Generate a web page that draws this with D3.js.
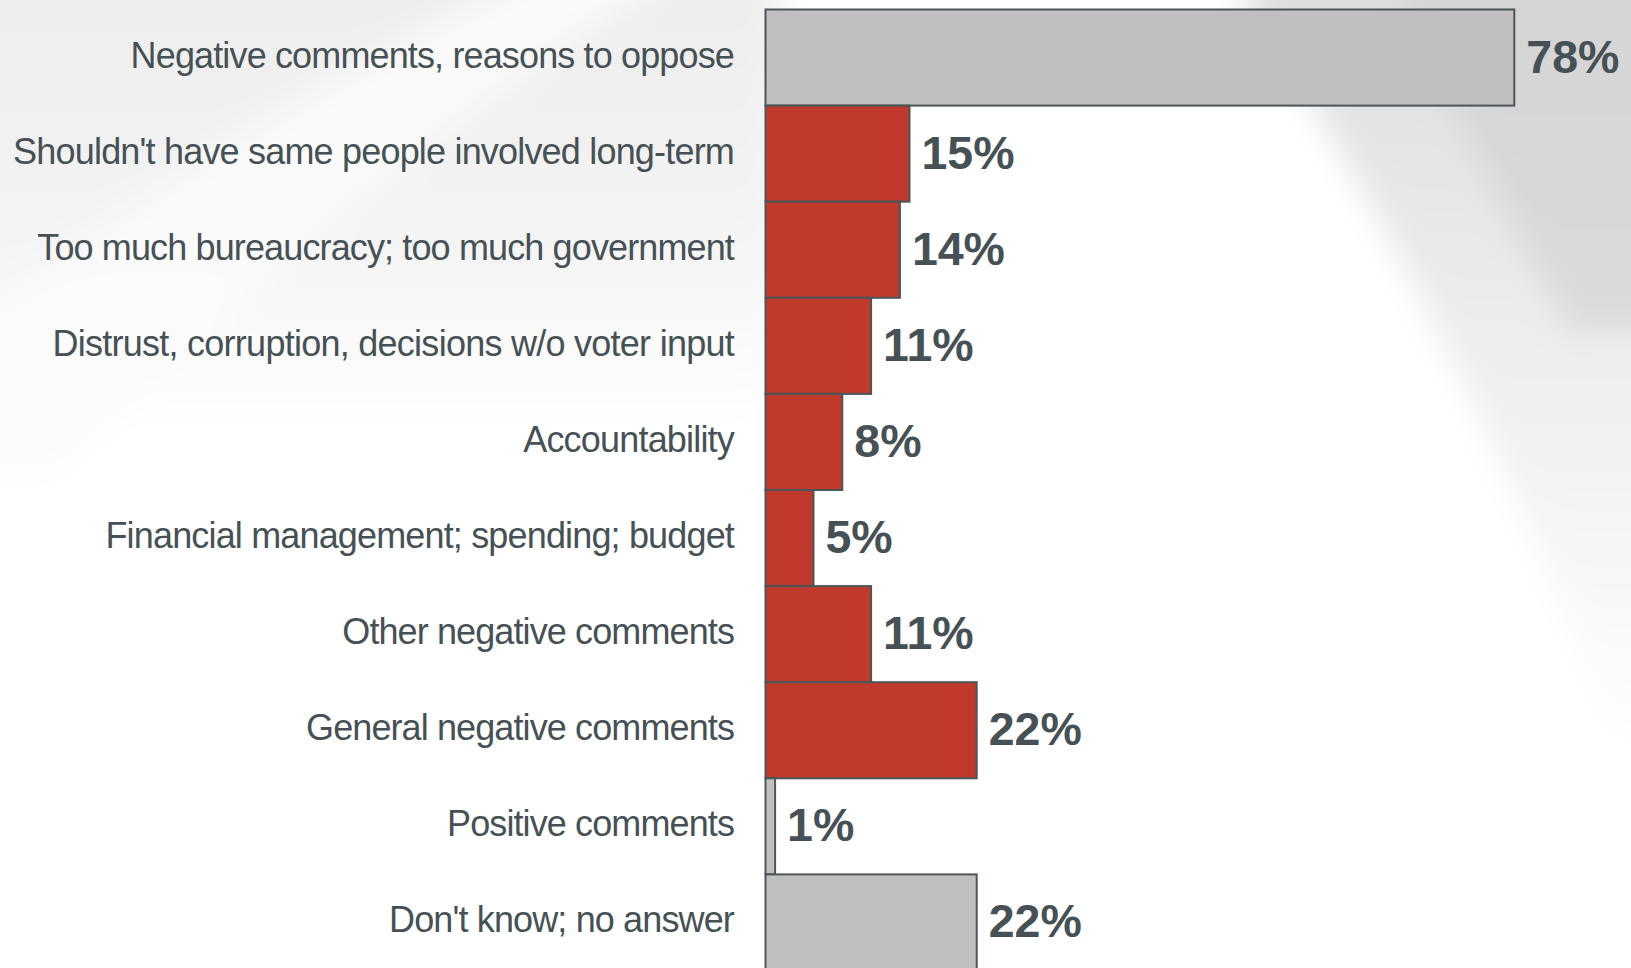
<!DOCTYPE html>
<html>
<head>
<meta charset="utf-8">
<script src="https://cdn.jsdelivr.net/npm/d3@7"></script>
<style>
  html, body { margin: 0; padding: 0; background: #ffffff; overflow: hidden; }
  svg { display: block; }
</style>
</head>
<body>
<svg id="chart" width="1631" height="968"></svg>
<script>
// Survey responses: reasons given, share of respondents (%)
const categories = [
  "Negative comments, reasons to oppose",
  "Shouldn't have same people involved long-term",
  "Too much bureaucracy; too much government",
  "Distrust, corruption, decisions w/o voter input",
  "Accountability",
  "Financial management; spending; budget",
  "Other negative comments",
  "General negative comments",
  "Positive comments",
  "Don't know; no answer"
];
const values = [78, 15, 14, 11, 8, 5, 11, 22, 1, 22];
// "sub" rows are the breakdown of the negative total
const groups = ["total", "sub", "sub", "sub", "sub", "sub", "sub", "sub", "total", "total"];

const W = 1631, H = 968;
const svg = d3.select("#chart");

// ---- soft backdrop ----
const defs = svg.append("defs");
defs.append("filter").attr("id", "soft")
  .attr("x", "-20%").attr("y", "-20%").attr("width", "140%").attr("height", "140%")
  .append("feGaussianBlur").attr("stdDeviation", 16);

const gLeft = defs.append("linearGradient").attr("id", "leftFade")
  .attr("x1", 0).attr("y1", 0).attr("x2", 0).attr("y2", 1);
gLeft.append("stop").attr("offset", 0).attr("stop-color", "#ededed");
gLeft.append("stop").attr("offset", 0.6).attr("stop-color", "#f4f4f4");
gLeft.append("stop").attr("offset", 1).attr("stop-color", "#ffffff");

const gRight = defs.append("linearGradient").attr("id", "rightFade")
  .attr("x1", 0).attr("y1", 0).attr("x2", 0).attr("y2", 1);
gRight.append("stop").attr("offset", 0).attr("stop-color", "#dcdcdc");
gRight.append("stop").attr("offset", 0.5).attr("stop-color", "#eeeeee");
gRight.append("stop").attr("offset", 1).attr("stop-color", "#ffffff");

const bg = svg.append("g").attr("filter", "url(#soft)");
bg.append("rect").attr("x", 0).attr("y", 0).attr("width", W).attr("height", H).attr("fill", "#ffffff");
bg.append("path")
  .attr("d", "M-40,-40 L780,-40 L780,430 L-40,430 Z")
  .attr("fill", "url(#leftFade)");
// lighter diagonal sweep across the left block
bg.append("path")
  .attr("d", "M560,-40 L700,-40 Q420,120 60,470 L-40,470 L-40,330 Q250,110 560,-40 Z")
  .attr("fill", "#fbfbfb").attr("opacity", 0.9);
bg.append("path")
  .attr("d", "M1220,-40 L1680,-40 L1680,760 L1620,760 Q1470,330 1220,-40 Z")
  .attr("fill", "url(#rightFade)");
bg.append("path")
  .attr("d", "M1390,-40 L1680,-40 L1680,330 L1570,330 Q1470,160 1390,-40 Z")
  .attr("fill", "#cfcfcf").attr("opacity", 0.6);

// ---- scales ----
const x = d3.scaleLinear().domain([0, 100]).range([765.5, 765.5 + 960]);
const y = d3.scaleBand().domain(categories).range([9.5, 9.5 + 961]).padding(0);

const fillFor = g => g === "sub" ? "#c0392b" : "#c0c0c0";
const stroke = "#4b5659";
const textCol = "#465155";

const rows = categories.map((c, i) => ({ cat: c, val: values[i], grp: groups[i] }));

// bars
svg.append("g").selectAll("rect")
  .data(rows).join("rect")
  .attr("x", x(0))
  .attr("y", d => y(d.cat))
  .attr("width", d => x(d.val) - x(0))
  .attr("height", y.bandwidth())
  .attr("fill", d => fillFor(d.grp))
  .attr("stroke", stroke)
  .attr("stroke-width", 2);

// category labels (y axis without line/ticks), tall face set to a fixed run width
const yAxis = d3.axisLeft(y).tickSize(0).tickPadding(0);
const axisG = svg.append("g")
  .attr("transform", `translate(734,0)`)
  .call(yAxis);
axisG.select(".domain").remove();

const probe = svg.append("text")
  .attr("font-family", "'Liberation Sans', Arial, sans-serif")
  .attr("font-size", 34.3)
  .attr("visibility", "hidden");

axisG.selectAll("text")
  .attr("fill", textCol)
  .attr("font-family", "'Liberation Sans Narrow', 'Arial Narrow', 'Liberation Sans', sans-serif")
  .attr("font-size", 36)
  .attr("dy", null)
  .attr("y", 10)
  .each(function (d) {
    const t = d3.select(this);
    probe.text(d);
    const target = probe.node().getComputedTextLength();
    const natural = this.getComputedTextLength();
    const n = Math.max(1, d.length - 1);
    t.attr("letter-spacing", ((target - natural) / n).toFixed(2));
  });
probe.remove();

// value labels
svg.append("g").selectAll("text")
  .data(rows).join("text")
  .attr("x", d => x(d.val) + 12)
  .attr("y", d => y(d.cat) + y.bandwidth() / 2 + 15)
  .attr("fill", textCol)
  .attr("font-family", "'Liberation Sans', Arial, sans-serif")
  .attr("font-weight", "bold")
  .attr("font-size", 46.5)
  .text(d => d.val + "%");
</script>
</body>
</html>
